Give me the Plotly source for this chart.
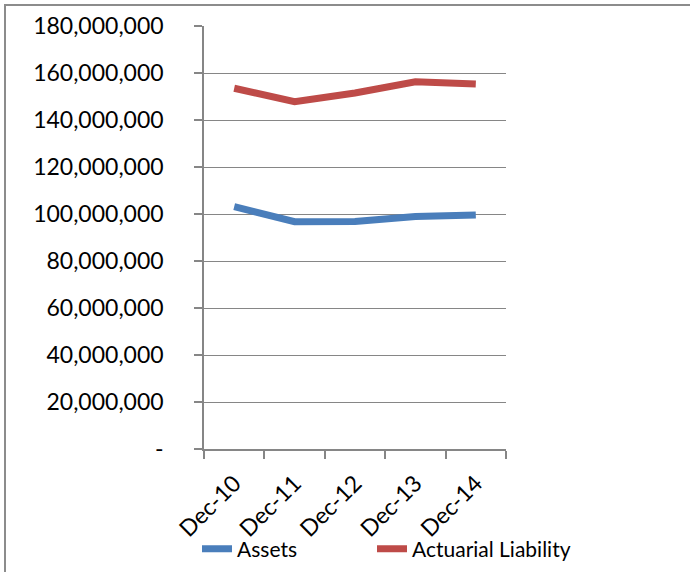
import plotly.graph_objects as go

categories = ["Dec-10", "Dec-11", "Dec-12", "Dec-13", "Dec-14"]
assets = [103100000, 96700000, 96800000, 98900000, 99600000]
liability = [153500000, 147800000, 151500000, 156300000, 155300000]
ytick_vals = [0, 20000000, 40000000, 60000000, 80000000, 100000000,
              120000000, 140000000, 160000000, 180000000]
ytick_text = ["-"] + [f"{v:,}" for v in ytick_vals[1:]]

FONT = "Lato, Calibri, Carlito, sans-serif"
GRAY = "#868686"

fig = go.Figure()
fig.add_trace(go.Scatter(x=categories, y=assets, mode="lines", name="Assets",
                         line=dict(color="#4A7EBB", width=7), legend="legend"))
fig.add_trace(go.Scatter(x=categories, y=liability, mode="lines", name="Actuarial Liability",
                         line=dict(color="#BE4B48", width=7), legend="legend2"))

W, H = 690, 572
L, R, T, B = 204, 184, 26, 123
pw, ph = W - L - R, H - T - B

leg_common = dict(orientation="h", xanchor="left", yanchor="middle",
                  y=-(549 - (T + ph)) / ph, font=dict(size=21, family=FONT),
                  bgcolor="rgba(0,0,0,0)", itemwidth=30)

fig.update_layout(
    width=W, height=H,
    margin=dict(l=L, r=R, t=T, b=B, autoexpand=False),
    paper_bgcolor="white", plot_bgcolor="white",
    font=dict(family=FONT, color="black"),
    showlegend=True,
    legend=dict(x=(197 - L) / pw, **leg_common),
    legend2=dict(x=(372 - L) / pw, **leg_common),
    xaxis=dict(type="category", range=[-0.5, 4.5], tickson="boundaries", automargin=False,
               ticks="outside", ticklen=8, tickcolor=GRAY, tickwidth=1.5,
               showline=True, linecolor=GRAY, linewidth=1.5, showgrid=False,
               tickangle=-45, tickfont=dict(size=23, family=FONT), zeroline=False,
               ticklabelstandoff=10),
    yaxis=dict(range=[0, 180000000], tickvals=ytick_vals, ticktext=ytick_text, automargin=False,
               ticks="outside", ticklen=8, tickcolor=GRAY, tickwidth=1.5,
               showline=True, linecolor=GRAY, linewidth=1.5,
               showgrid=True, gridcolor=GRAY, gridwidth=1.2, zeroline=False,
               tickfont=dict(size=23, family=FONT), ticklabelstandoff=26),
)

fig.add_shape(type="rect", xref="paper", yref="paper",
              x0=(5 - L) / pw, x1=(W + 20 - L) / pw,
              y0=-(H + 20 - (T + ph)) / ph, y1=1 + (T - 5) / ph,
              line=dict(color="#8C8C8C", width=2), fillcolor="rgba(0,0,0,0)", layer="below")

fig.write_html("out.html")
